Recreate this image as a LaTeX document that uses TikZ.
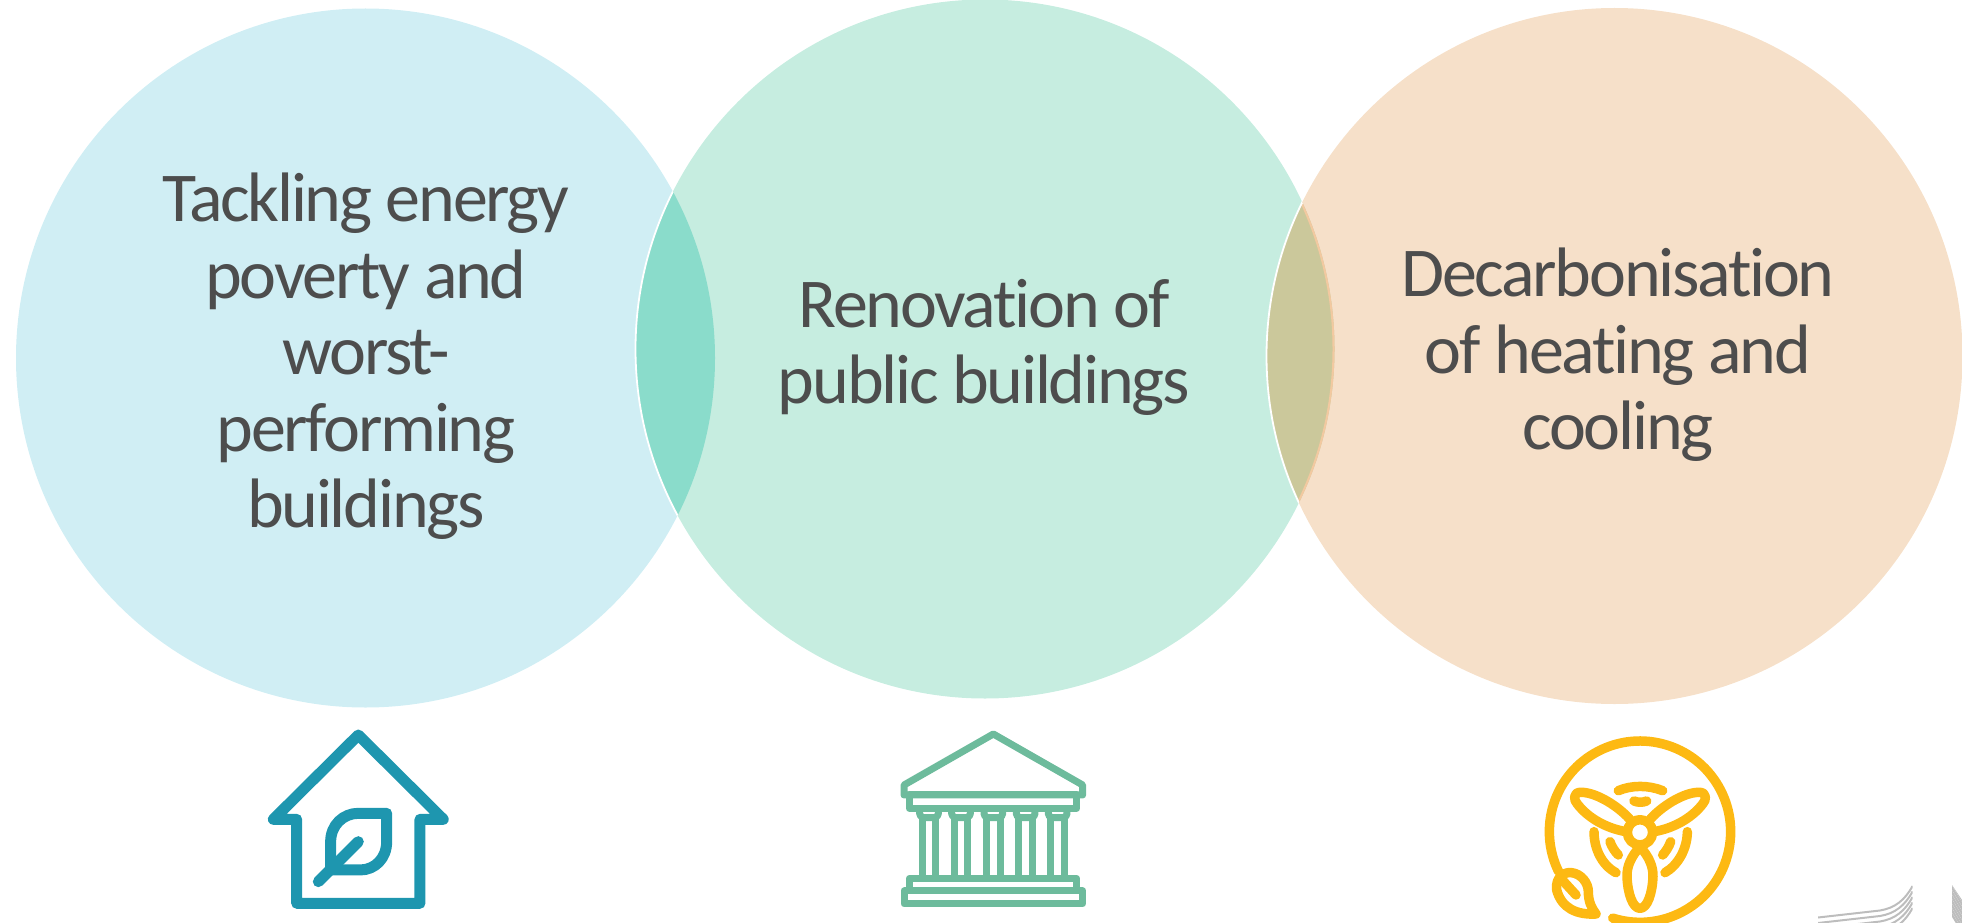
\documentclass[tikz,border=0pt]{standalone}
\usepackage{fontspec}
\setmainfont[Ligatures=CommonOff,LetterSpace=-3.2]{Carlito}
\definecolor{cblue}{HTML}{D0EEF4}
\definecolor{cgreen}{HTML}{C6EDE0}
\definecolor{corange}{HTML}{F6E0C9}
\definecolor{lensa}{HTML}{8ADCCB}
\definecolor{lensb}{HTML}{CBC89B}
\definecolor{edgeor}{HTML}{F2C9A0}
\definecolor{ink}{HTML}{4D4D4D}
\definecolor{teal}{HTML}{1E96AF}
\definecolor{temple}{HTML}{6DBB9C}
\definecolor{fan}{HTML}{FDB913}
\definecolor{hatch}{HTML}{BDBDBD}
\tikzset{
  bubbletext/.style={text=ink,align=center,font=\fontsize{70}{76.5}\selectfont,inner sep=0pt},
  iconline/.style={line join=round,line cap=round,fill=none},
}
\begin{document}
\begin{tikzpicture}[x=1pt,y=-1pt]
\useasboundingbox (0,0) rectangle (1962,923);
\def\ra{349.5}
% circles
\fill[cblue] (365.5,358) circle (\ra);
\fill[cgreen] (985,349) circle (\ra);
\fill[corange] (1614.5,356) circle (348);
% lenses
\begin{scope}
\clip (365.5,358) circle (\ra);
\fill[lensa] (985,349) circle (\ra);
\end{scope}
\begin{scope}
\clip (985,349) circle (\ra);
\fill[lensb] (1614.5,356) circle (348);
\end{scope}
\begin{scope}
\clip (1614.5,356) circle (348);
\draw[edgeor,line width=2] (985,349) circle (\ra-1);
\end{scope}
\begin{scope}
\clip (365.5,358) circle (\ra);
\draw[white,line width=1.8] (985,349) circle (\ra);
\end{scope}
\begin{scope}
\clip (985,349) circle (\ra);
\draw[white,line width=1.8] (1614.5,356) circle (348);
\end{scope}
% texts
\node[bubbletext] (t1) at (366,356.5) {Tackling energy\\poverty and\\worst-\\performing\\buildings};
\node[bubbletext] (t2) at (984,347.5) {Renovation of\\public buildings};
\node[bubbletext] (t3) at (1618,355) {Decarbonisation\\of heating and\\cooling};
% house
\begin{scope}[shift={(240,710)},x=0.3333pt,y=-0.3333pt]
\draw[iconline,teal,line width=11] (355,75) -- (100,328) -- (170,328) -- (170,580) -- (540,580) -- (540,328) -- (610,328) -- cycle;
\draw[iconline,teal,line width=11] (272,480) -- (272,395) .. controls (272,345) and (310,310) .. (355,310) -- (440,310) -- (440,395) .. controls (440,445) and (405,480) .. (360,480) -- cycle;
\draw[iconline,teal,line width=11] (235,515) -- (355,395);
\end{scope}
% temple
\begin{scope}[shift={(880,710)},x=0.3333pt,y=-0.3333pt,temple,line width=7,line join=round]
\draw (340,72) -- (72,225) -- (72,255) -- (608,255) -- (608,225) -- cycle;
\draw (88,255) rectangle (590,295);
\foreach \c in {147,243,340,437,533}{
  \draw[rounded corners=4pt] (\c-28,295) -- (\c-28,323) -- (\c+28,323) -- (\c+28,295);
  \draw (\c-20,323) -- (\c-20,505);
  \draw (\c+20,323) -- (\c+20,505);
}
\draw (88,505) rectangle (590,543);
\draw (72,543) rectangle (608,582);
\end{scope}
% fan
\begin{scope}[shift={(1520,720)},x=0.3333pt,y=-0.3333pt,fan,line width=9.5,line cap=round,line join=round]
\draw (360,335) ++(107.5:272) arc[start angle=107.5,end angle=-206,radius=272];
\draw (360,337) circle (38);
\draw (360,380) .. controls (333,410) and (320,440) .. (321,470) .. controls (323,520) and (338,565) .. (360,565) .. controls (382,565) and (397,520) .. (399,470) .. controls (400,440) and (387,410) .. (360,380) -- cycle;
\draw (328,296) .. controls (285,250) and (220,215) .. (180,217) .. controls (160,218) and (160,240) .. (172,252) .. controls (205,295) and (260,325) .. (318,335);
\draw (392,296) .. controls (435,250) and (500,215) .. (540,217) .. controls (560,218) and (560,240) .. (548,252) .. controls (515,295) and (460,325) .. (402,335);
\draw (295,212) .. controls (335,195) and (385,195) .. (428,212);
\draw (342,243) .. controls (355,248) and (367,248) .. (380,243);
\draw (222,335) .. controls (222,385) and (245,435) .. (288,458);
\draw (502,335) .. controls (502,385) and (475,435) .. (435,458);
\draw (270,365) .. controls (275,380) and (285,395) .. (295,405);
\draw (452,365) .. controls (447,380) and (437,395) .. (428,405);
\draw (228,582) .. controls (170,585) and (125,565) .. (110,510) .. controls (105,470) and (135,455) .. (155,458) .. controls (185,462) and (205,490) .. (205,515) .. controls (205,545) and (215,565) .. (228,582) -- cycle;
\draw (125,478) -- (168,525);
\end{scope}
% corner hatching
\begin{scope}
\clip (1818,860) rectangle (1912.5,923);
\foreach \d in {0,5.5,11,16.5,22}{
  \draw[hatch,line width=2] (1818,917.5+\d) -- (1880,910.5+\d) .. controls (1895,908+\d) and (1905,900+\d) .. (1912.5,886+\d);
}
\end{scope}
\begin{scope}
\clip (1952,885) -- (1962,900) -- (1962,923) -- (1952,923) -- cycle;
\foreach \d in {0,4.5,9,13.5,18,22.5,27,31.5}{
  \draw[hatch,line width=2.2] (1950,880+\d) -- (1964,903+\d);
}
\end{scope}
\end{tikzpicture}
\end{document}
